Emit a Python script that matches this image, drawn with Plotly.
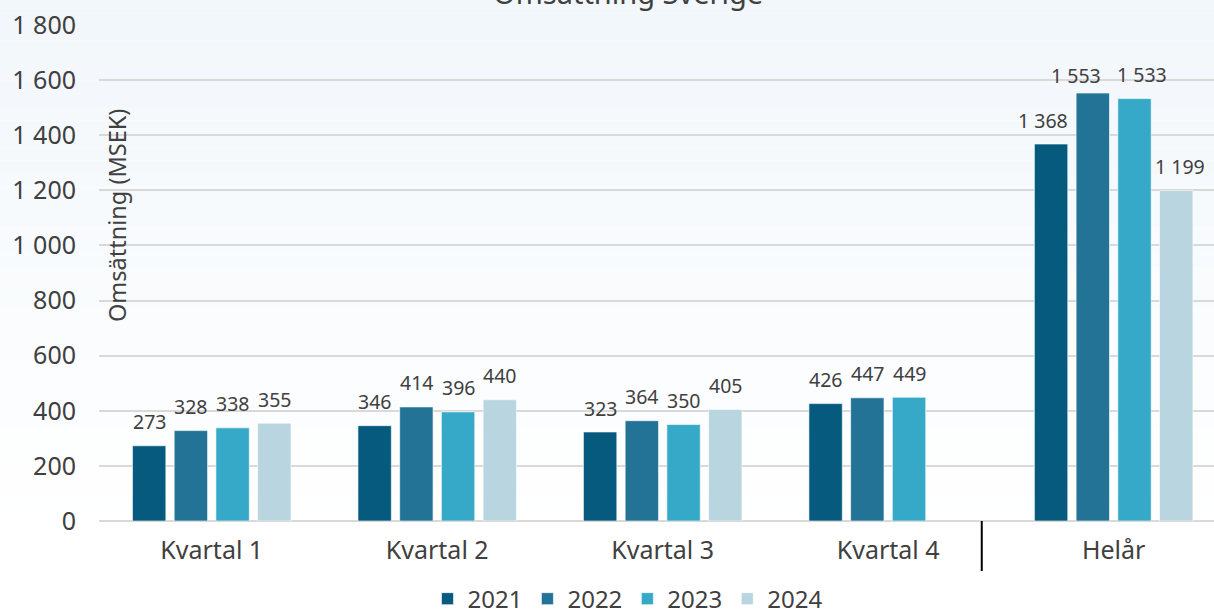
import plotly.graph_objects as go

categories = ["Kvartal 1", "Kvartal 2", "Kvartal 3", "Kvartal 4", "Helår"]
years = ["2021", "2022", "2023", "2024"]
values_2021 = [273, 346, 323, 426, 1368]
values_2022 = [328, 414, 364, 447, 1553]
values_2023 = [338, 396, 350, 449, 1533]
values_2024 = [355, 440, 405, None, 1199]
y_ticks = [0, 200, 400, 600, 800, 1000, 1200, 1400, 1600, 1800]

series = [values_2021, values_2022, values_2023, values_2024]
colors = ["#065a7e", "#237397", "#35a9c7", "#b8d5e0"]
text_color = "#404040"
font_family = "Noto Sans"

bargap = 0.26
slot = (1 - bargap) / len(years)

# label nudges (px) for the crowded Helår group, as in the original
helar_dx = [-8, -17, 7, 4]
helar_dy = [0, -6, 0, 0]

fig = go.Figure()
for i, (year, vals, col) in enumerate(zip(years, series, colors)):
    fig.add_trace(go.Bar(
        x=categories, y=vals, name=year,
        marker=dict(color=col, line=dict(color="rgba(255,255,255,0.6)", width=1)),
        cliponaxis=False,
    ))
    for j, v in enumerate(vals):
        if v is None:
            continue
        dx = helar_dx[i] if j == 4 else 0
        dy = helar_dy[i] if j == 4 else 0
        fig.add_annotation(
            x=j + (i - 1.5) * slot, y=v, xref="x", yref="y",
            text=f"{v:,}".replace(",", " "), showarrow=False,
            xshift=dx, yshift=24 + dy, yanchor="middle",
            font=dict(size=19.5, color=text_color, family=font_family),
        )

# soft vertical gradient behind everything (light blue at top -> white)
n_bands = 40
top_px, bottom_px = 0, 535
plot_top, plot_bottom = 25, 521
h = plot_bottom - plot_top
for i in range(n_bands):
    y0 = top_px + (bottom_px - top_px) * i / n_bands
    y1 = top_px + (bottom_px - top_px) * (i + 1) / n_bands
    t = i / (n_bands - 1)
    r = round(242 + (255 - 242) * t)
    g = round(247 + (255 - 247) * t)
    b = round(251 + (255 - 251) * t)
    fig.add_shape(type="rect", xref="paper", yref="paper",
                  x0=-0.2, x1=1.2,
                  y0=(plot_bottom - y1) / h, y1=(plot_bottom - y0 + (10 if i == 0 else 0)) / h,
                  fillcolor=f"rgb({r},{g},{b})", line=dict(width=0), layer="below")

# separator between Kvartal 4 and Helår
fig.add_shape(type="line", xref="x", yref="paper", x0=3.415, x1=3.415,
              y0=0, y1=-50 / h, line=dict(color="black", width=2))

fig.add_annotation(text="Omsättning Sverige", xref="paper", yref="paper",
                   x=0.474, y=1 + (plot_top + 8) / h, xanchor="center", yanchor="middle",
                   showarrow=False, font=dict(size=29, color=text_color, family=font_family))
fig.add_annotation(text="Omsättning (MSEK)", xref="paper", yref="paper",
                   x=(117 - 99) / 1115, y=(plot_bottom - 216) / h, textangle=-90,
                   xanchor="center", yanchor="middle",
                   showarrow=False, font=dict(size=23.5, color=text_color, family=font_family))

fig.update_layout(
    width=1214, height=614,
    margin=dict(l=99, r=0, t=plot_top, b=614 - plot_bottom, autoexpand=False),
    paper_bgcolor="white", plot_bgcolor="rgba(0,0,0,0)",
    barmode="group", bargap=bargap, bargroupgap=0.2,
    separators=", ",
    font=dict(family=font_family, color=text_color),
    showlegend=True,
    legend=dict(orientation="h", x=0.474, xanchor="center", y=-0.112, yanchor="top",
                font=dict(size=24, color=text_color, family=font_family),
                itemwidth=30, traceorder="normal"),
)
fig.update_xaxes(range=[-0.5, 4.445], showgrid=False, showline=False, automargin=False,
                 tickfont=dict(size=25, color=text_color), ticklabelstandoff=12)
fig.update_yaxes(range=[0, 1800], tickvals=y_ticks, tickformat=",d", automargin=False,
                 showgrid=True, gridcolor="#d9d9d9", gridwidth=2,
                 zeroline=True, zerolinecolor="#d9d9d9", zerolinewidth=2,
                 tickfont=dict(size=25, color=text_color), ticklabelstandoff=22)

fig.write_html("out.html", config={"displayModeBar": False},
               post_script="document.body.style.margin='0';")
